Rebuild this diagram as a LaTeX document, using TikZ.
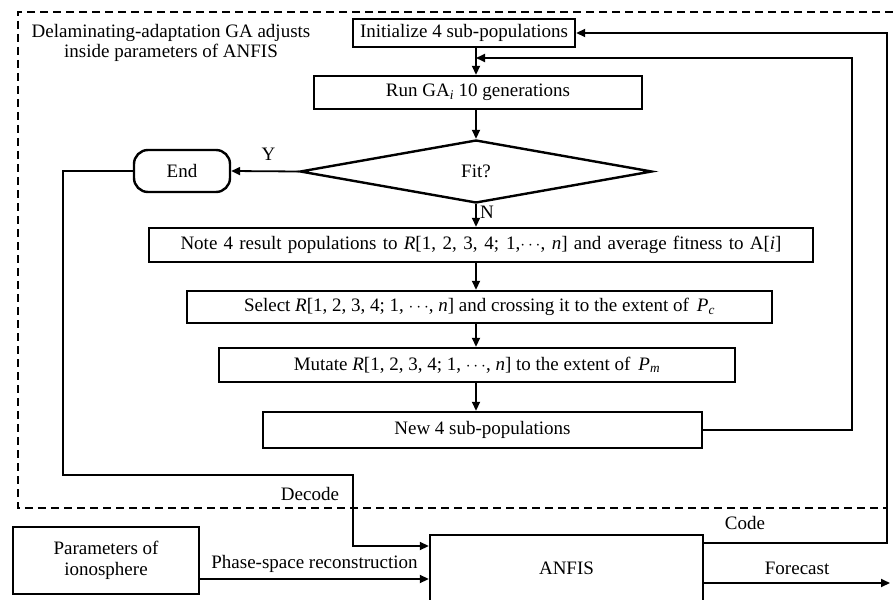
\documentclass[tikz,border=0pt]{standalone}
\usepackage{fontspec}
\setmainfont{Liberation Serif}
\usetikzlibrary{shapes.geometric,arrows.meta,positioning}

\begin{document}
\begin{tikzpicture}[x=1pt,y=-1pt,font=\fontsize{19}{20.5}\selectfont,
  box/.style={draw,line width=2.4pt,inner sep=0pt},
  arr/.style={line width=1.8pt,-{Triangle[length=9pt,width=8pt]}}]
  \useasboundingbox (0,0) rectangle (893,599);
  \clip (0,0) rectangle (893,599);
  \draw[line width=1.3pt,dash pattern=on 8pt off 5pt] (893,12) -- (18,12) -- (18,508) -- (887,508);
  \node[align=center] (title) at (171,43) {Delaminating-adaptation GA adjusts\\inside parameters of ANFIS};
  \node[box,minimum width=222,minimum height=28] (init) at (464,33) {Initialize 4 sub-populations};
  \node[box,minimum width=328,minimum height=33] (run) at (478,92.5) {Run GA\textsubscript{\textit{i}} 10 generations};
  \node[box,diamond,minimum width=352,minimum height=63] (fit) at (476,171.5) {Fit?};
  \node[box,rounded corners=14pt,minimum width=96,minimum height=42] (end) at (182,171) {End};
  \node[box,minimum width=664,minimum height=34] (note) at (481,245) {\makebox[601pt][s]{Note 4 result populations to \textit{R}[1, 2, 3, 4; 1,$\cdots$, \textit{n}] and average fitness to A[\textit{i}]}};
  \node[box,minimum width=585,minimum height=32] (select) at (479.5,307) {Select \textit{R}[1, 2, 3, 4; 1, $\cdots$, \textit{n}] and crossing it to the extent of \,\textit{P}\textsubscript{\textit{c}}};
  \node[box,minimum width=516,minimum height=34] (mutate) at (477,365) {Mutate \textit{R}[1, 2, 3, 4; 1, $\cdots$, \textit{n}] to the extent of \,\textit{P}\textsubscript{\textit{m}}};
  \node[box,minimum width=439,minimum height=36] (new) at (482.5,430) {New 4 sub-populations};
  \node[box,minimum width=186,minimum height=67,align=center] (params) at (106,560.5) {Parameters of\\ionosphere};
  \node[box,minimum width=273,minimum height=66] (anfis) at (566.5,568) {ANFIS};
  \node (decode) at (310,494) {Decode};
  \node (code) at (745,523) {Code};
  \coordinate (inner) at (852,58);
  \coordinate (outer) at (887,543);
  \coordinate (d1) at (63,475);
  \coordinate (d2) at (353,546);
  \coordinate (ps) at (300,579);
  \coordinate (fc) at (890,583);
  \path[arr]
    (init.south -| fit) edge (run.north -| fit)
    (run.south -| fit) edge (fit.north)
    (fit.west) edge node[above=7pt,pos=0.45] {Y} (end.east)
    (fit.south) edge node[right,pos=0.35] {N} (note.north -| fit)
    (note.south -| fit) edge (select.north -| fit)
    (select.south -| fit) edge (mutate.north -| fit)
    (mutate.south -| fit) edge (new.north -| fit);
  \draw[arr] (new.east) -| (inner) -- (inner -| fit);
  \draw[arr] (outer -| anfis.east) -- (outer) |- (init.east);
  \draw[arr] (end.west) -| (d1) -| (d2) -- (d2 -| anfis.west);
  \draw[arr] (params.east |- ps) -- (ps -| anfis.west) node[midway,above=2pt] {Phase-space reconstruction};
  \draw[arr] (fc -| anfis.east) -- (fc) node[midway,above=4pt] {Forecast};
\end{tikzpicture}
\end{document}
